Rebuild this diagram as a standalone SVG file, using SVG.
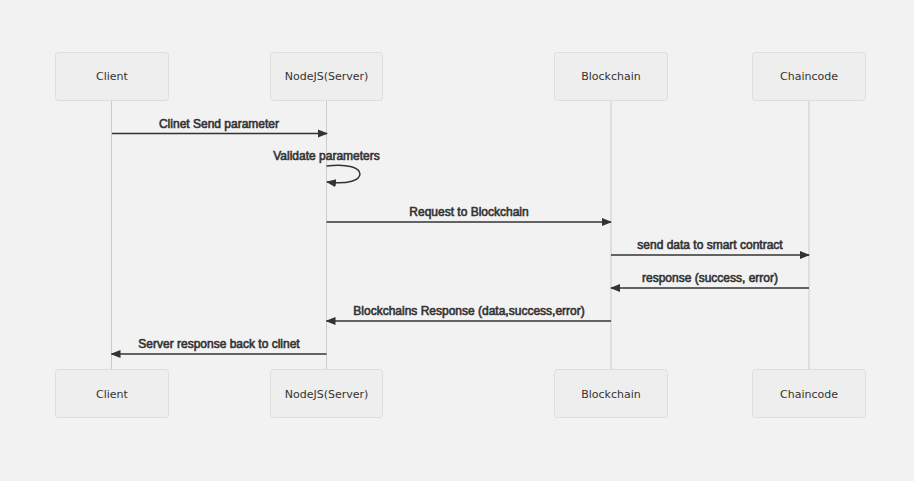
<svg xmlns="http://www.w3.org/2000/svg" width="914" height="481" viewBox="0 0 914 481">
<style>
.actor rect{fill:#eeeeee;stroke:#dddddd;stroke-width:1}
.actor text{font-family:"DejaVu Sans",sans-serif;font-size:11px;fill:#333;text-anchor:middle;dominant-baseline:central}
.life{stroke:#cccccc;stroke-width:1}
.msg{stroke:#333;stroke-width:1.5;fill:none}
.lbl{font-family:"Liberation Sans",Arial,sans-serif;font-size:12px;fill:#333;stroke:#333;stroke-width:0.6;text-anchor:middle}
</style>
<defs>
<marker id="arr" viewBox="0 0 10 10" refX="9" refY="5" markerWidth="10" markerHeight="10" markerUnits="userSpaceOnUse" orient="auto">
<path d="M0,1 L10,5 L0,9 z" fill="#333"/>
</marker>
</defs>
<rect x="0" y="0" width="914" height="481" fill="#f2f2f2"/>
<g id="lifelines">
<line class="life" x1="111.5" y1="100" x2="111.5" y2="369"/>
<line class="life" x1="326.5" y1="100" x2="326.5" y2="369"/>
<line class="life" x1="611" y1="100" x2="611" y2="369"/>
<line class="life" x1="809" y1="100" x2="809" y2="369"/>
</g>
<g id="client-top" class="actor"><rect x="55.5" y="52.5" width="113" height="48" rx="3"/><text x="112" y="76.5">Client</text></g>
<g id="node-top" class="actor"><rect x="270.5" y="52.5" width="112" height="48" rx="3"/><text x="326.5" y="76.5">NodeJS(Server)</text></g>
<g id="bc-top" class="actor"><rect x="554.5" y="52.5" width="113" height="48" rx="3"/><text x="611" y="76.5">Blockchain</text></g>
<g id="cc-top" class="actor"><rect x="752.5" y="52.5" width="113" height="48" rx="3"/><text x="809" y="76.5">Chaincode</text></g>
<g id="client-bottom" class="actor"><rect x="55.5" y="369.5" width="113" height="48" rx="3"/><text x="112" y="394">Client</text></g>
<g id="node-bottom" class="actor"><rect x="270.5" y="369.5" width="112" height="48" rx="3"/><text x="326.5" y="394">NodeJS(Server)</text></g>
<g id="bc-bottom" class="actor"><rect x="554.5" y="369.5" width="113" height="48" rx="3"/><text x="611" y="394">Blockchain</text></g>
<g id="cc-bottom" class="actor"><rect x="752.5" y="369.5" width="113" height="48" rx="3"/><text x="809" y="394">Chaincode</text></g>
<g id="connectors">
<line class="msg" x1="112" y1="133.5" x2="327" y2="133.5" marker-end="url(#arr)"/>
<text class="lbl" x="219" y="127.5">Clinet Send parameter</text>
<path class="msg" d="M326.5,166 C371,160 371,188 327,182" marker-end="url(#arr)"/>
<text class="lbl" x="326.5" y="160">Validate parameters</text>
<line class="msg" x1="326.5" y1="222" x2="611" y2="222" marker-end="url(#arr)"/>
<text class="lbl" x="469" y="216">Request to Blockchain</text>
<line class="msg" x1="611" y1="255" x2="809" y2="255" marker-end="url(#arr)"/>
<text class="lbl" x="710" y="249">send data to smart contract</text>
<line class="msg" x1="809" y1="288" x2="611" y2="288" marker-end="url(#arr)"/>
<text class="lbl" x="710" y="282">response (success, error)</text>
<line class="msg" x1="611" y1="321" x2="326.5" y2="321" marker-end="url(#arr)"/>
<text class="lbl" x="469" y="315">Blockchains Response (data,success,error)</text>
<line class="msg" x1="326.5" y1="354" x2="111.5" y2="354" marker-end="url(#arr)"/>
<text class="lbl" x="219" y="348">Server response back to clinet</text>
</g>
</svg>
